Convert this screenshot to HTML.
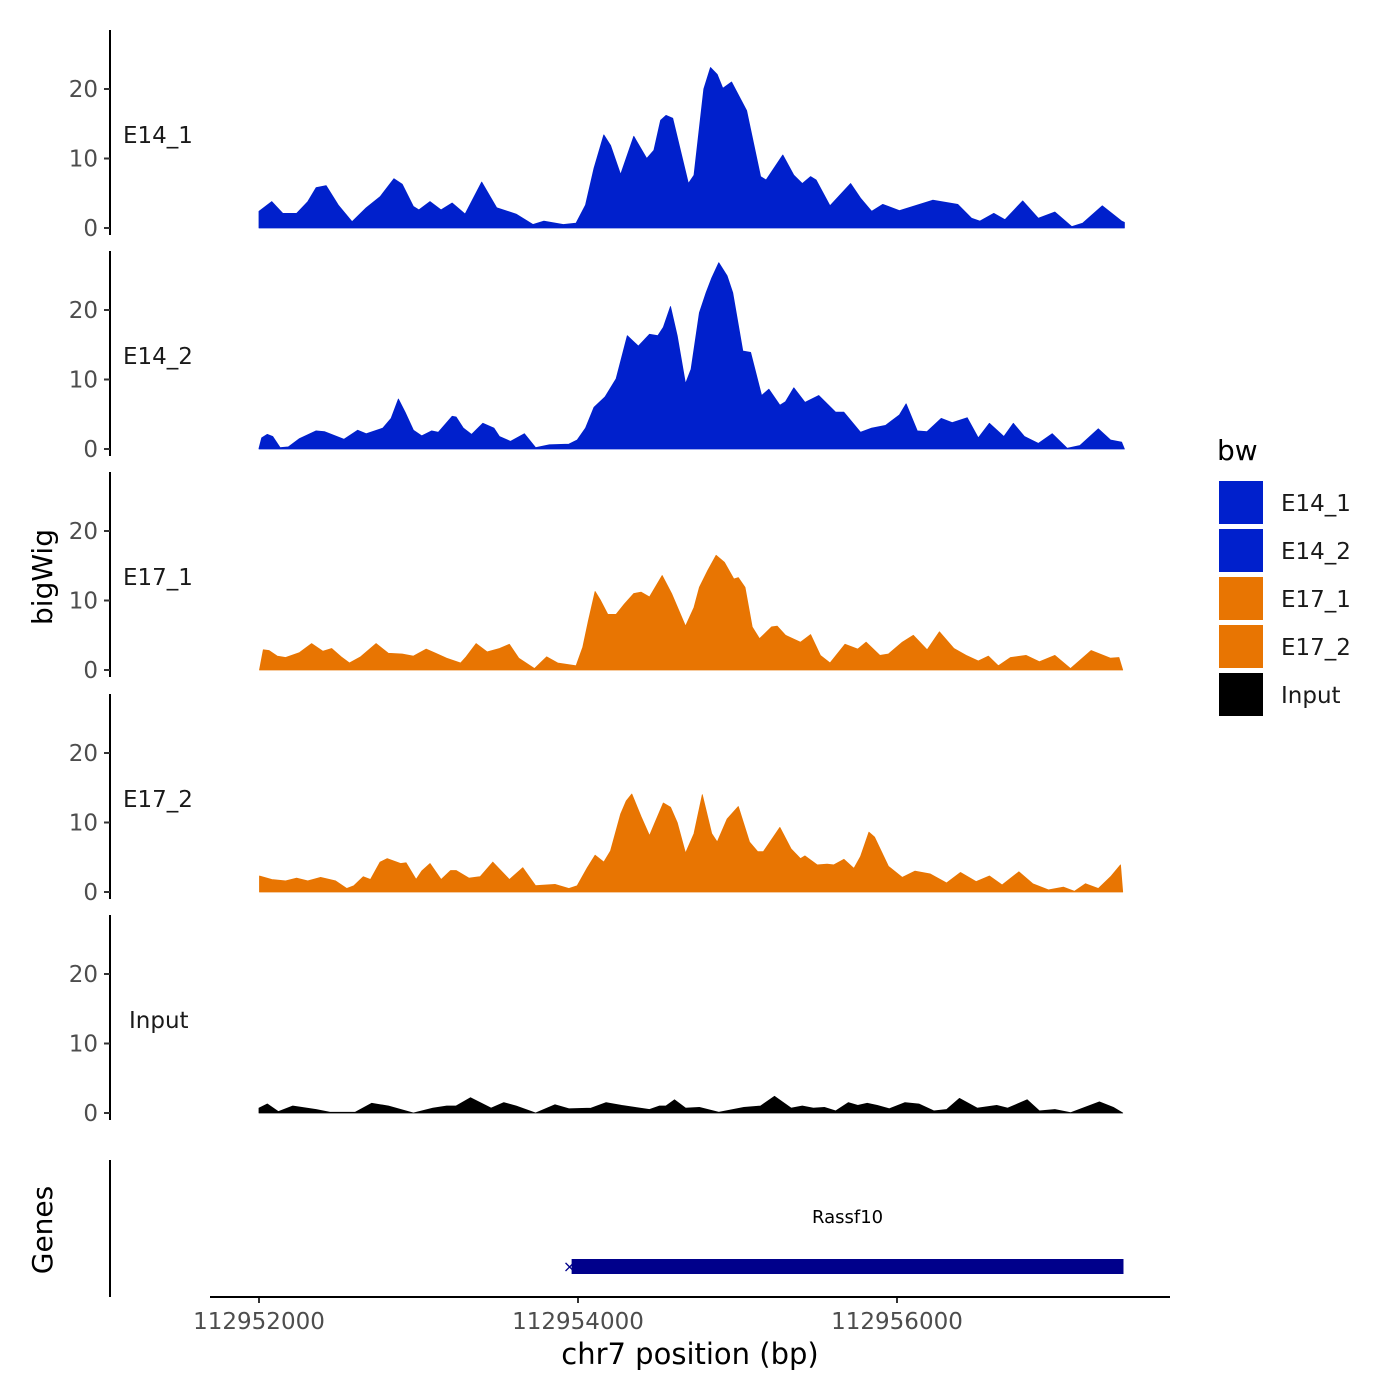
<!DOCTYPE html>
<html><head><meta charset="utf-8"><style>
html,body{margin:0;padding:0;background:#fff;}
svg{display:block;font-family:"DejaVu Sans","Liberation Sans",sans-serif;}
</style></head><body>
<svg id="chart" width="1400" height="1400" viewBox="0 0 1400 1400">
<rect width="1400" height="1400" fill="#fff"/>
<g id="tracks"></g>
<g id="axes"></g>
<text x="52" y="577" font-size="28" text-anchor="middle" transform="rotate(-90 52 577)">bigWig</text>
<text x="52" y="1230" font-size="28" text-anchor="middle" transform="rotate(-90 52 1230)">Genes</text>
<text x="690" y="1364" font-size="29" text-anchor="middle">chr7 position (bp)</text>
<line x1="110" y1="1160" x2="110" y2="1297" stroke="#000" stroke-width="2"/>
<line x1="210" y1="1297" x2="1170" y2="1297" stroke="#000" stroke-width="2"/>
<g id="genes"></g>
<g id="legend">
<text x="1217" y="460" font-size="28">bw</text>
</g>
</svg>
<script>
const ns="http://www.w3.org/2000/svg";
const START=112952000;
const xTicks=[112952000,112954000,112956000];
const yTicks=[0,10,20];
const trackNames=["E14_1","E14_2","E17_1","E17_2","Input"];
const trackColors=["#0020CC","#0020CC","#E87502","#E87502","#000000"];
const geneName="Rassf10";
const geneStart=112953960;
const geneEnd=112957420;
// positions: bp offset from 112952000; values: coverage
const e14_1_pos=[0,80,149,236,306,358,421,497,584,672,759,846,898,968,1002,1072,1142,1211,1292,1396,1490,1612,1717,1786,1908,1988,2047,2100,2162,2204,2267,2350,2431,2476,2518,2552,2594,2692,2727,2789,2831,2873,2908,2963,3057,3145,3179,3284,3353,3406,3458,3493,3580,3709,3771,3841,3911,4015,4224,4381,4468,4520,4607,4677,4788,4886,4990,5095,5165,5287,5408,5426];
const e14_1_val=[2.4,3.8,2.1,2.1,3.8,5.8,6.1,3.3,0.9,2.9,4.5,7.1,6.3,3.1,2.6,3.8,2.6,3.6,2.0,6.6,2.9,2.0,0.5,1.0,0.5,0.7,3.3,8.6,13.4,11.9,7.7,13.2,10,11.2,15.5,16.2,15.8,6.4,7.6,20,23.1,22.1,20.1,21,16.9,7.4,6.9,10.5,7.6,6.4,7.4,6.9,3.2,6.4,4.3,2.4,3.4,2.5,4.0,3.4,1.4,1.0,2.1,1.2,3.9,1.4,2.3,0.2,0.7,3.2,1.0,0.8];
const e14_2_pos=[0,17,52,86,132,184,254,358,410,532,619,672,776,828,874,916,968,1020,1083,1124,1211,1236,1281,1333,1403,1473,1507,1577,1664,1734,1821,1943,1995,2047,2100,2169,2239,2309,2378,2448,2500,2535,2580,2622,2674,2709,2761,2803,2838,2883,2935,2970,3033,3082,3151,3197,3266,3301,3353,3423,3510,3615,3667,3771,3841,3928,4015,4057,4127,4189,4277,4346,4440,4510,4579,4670,4729,4799,4886,4973,5067,5147,5262,5339,5408,5426];
const e14_2_val=[0.1,1.6,2.1,1.8,0.2,0.3,1.5,2.6,2.5,1.4,2.7,2.2,3.0,4.4,7.2,5.3,2.7,1.9,2.6,2.4,4.7,4.6,3.0,2.1,3.7,3.0,1.8,1.1,2.2,0.2,0.6,0.7,1.3,3.0,6.0,7.5,10.1,16.3,14.8,16.5,16.3,17.5,20.5,16.3,9.4,11.5,19.6,22.5,24.6,26.8,24.9,22.5,14.1,13.9,7.7,8.6,6.3,6.8,8.8,6.7,7.7,5.3,5.3,2.4,3.0,3.4,4.9,6.5,2.6,2.5,4.4,3.8,4.5,1.6,3.7,1.8,3.7,1.8,0.8,2.2,0.1,0.5,2.9,1.3,1.0,0];
const e17_1_pos=[3,27,62,114,167,254,330,400,456,515,567,637,734,811,898,968,1048,1107,1177,1264,1299,1361,1431,1508,1570,1629,1727,1804,1873,1988,2030,2065,2107,2142,2187,2239,2291,2350,2396,2448,2528,2587,2674,2727,2761,2813,2866,2918,2977,3005,3047,3092,3138,3214,3249,3301,3395,3458,3520,3580,3674,3754,3806,3893,3946,4033,4102,4189,4266,4357,4433,4510,4573,4635,4712,4809,4893,4990,5088,5217,5339,5391,5415];
const e17_1_val=[0,2.9,2.8,2.0,1.8,2.5,3.8,2.7,3.1,1.9,1.0,1.9,3.8,2.4,2.3,2.0,3.0,2.4,1.7,1.0,1.9,3.8,2.6,3.1,3.7,1.7,0.2,1.9,1.0,0.6,3.3,7.1,11.3,10.0,8.0,8.0,9.5,11.0,11.2,10.5,13.6,11.0,6.3,9.0,11.9,14.3,16.5,15.5,13.1,13.3,11.9,6.2,4.5,6.2,6.3,5.0,4.0,5.1,2.1,1.0,3.7,3.0,4.0,2.1,2.3,4.0,5.0,2.9,5.5,3.1,2.1,1.3,2.0,0.6,1.8,2.1,1.2,2.1,0.2,2.8,1.7,1.8,0];
const e17_2_pos=[3,80,167,236,306,386,480,550,595,654,699,759,804,888,922,985,1020,1072,1142,1201,1236,1316,1386,1466,1570,1654,1734,1856,1943,1995,2058,2107,2162,2204,2267,2302,2337,2396,2448,2483,2535,2580,2622,2674,2727,2779,2838,2873,2935,3005,3075,3127,3162,3266,3336,3395,3423,3500,3562,3604,3667,3730,3771,3824,3859,3946,4033,4113,4207,4311,4398,4496,4579,4659,4764,4851,4949,5043,5112,5182,5262,5339,5401,5415];
const e17_2_val=[2.3,1.8,1.6,2.0,1.6,2.1,1.6,0.5,0.9,2.2,1.8,4.3,4.8,4.1,4.2,1.8,3.0,4.1,1.8,3.1,3.1,2.0,2.2,4.3,1.8,3.5,0.9,1.1,0.5,0.9,3.5,5.3,4.3,5.9,11.2,13.1,14.1,10.8,8.1,10.0,12.8,12.2,10.0,5.6,8.4,14.0,8.4,7.2,10.5,12.3,7.2,5.8,5.8,9.3,6.2,4.8,5.2,3.9,4.0,3.9,4.7,3.4,5.1,8.6,7.9,3.7,2.1,3.0,2.6,1.3,2.8,1.5,2.3,1.0,2.9,1.2,0.3,0.7,0.1,1.2,0.5,2.2,3.9,0];
const input_pos=[0,52,121,212,358,445,602,706,811,968,1090,1177,1236,1326,1455,1535,1612,1734,1856,1943,2082,2176,2274,2448,2511,2552,2605,2674,2761,2883,3040,3145,3232,3336,3406,3475,3545,3615,3695,3754,3813,3876,3952,4050,4137,4231,4311,4391,4503,4625,4694,4816,4893,4990,5088,5269,5356,5415];
const input_val=[0.7,1.3,0.2,1.0,0.5,0.1,0.1,1.4,1.0,0,0.7,1.0,1.0,2.2,0.7,1.5,1.0,0,1.2,0.6,0.7,1.5,1.1,0.5,1.0,1.0,1.9,0.7,0.8,0.1,0.8,1.0,2.4,0.7,1.0,0.7,0.8,0.3,1.5,1.1,1.4,1.1,0.6,1.5,1.3,0.3,0.5,2.1,0.7,1.1,0.7,1.9,0.3,0.5,0.05,1.6,0.8,0];
const allPos=[e14_1_pos,e14_2_pos,e17_1_pos,e17_2_pos,input_pos];
const allVal=[e14_1_val,e14_2_val,e17_1_val,e17_2_val,input_val];

const PX_PER_BP=319/2000;
function xScale(bp){return 259+(bp-START)*PX_PER_BP;}
const panelBase=[228,449,670,892,1113];
const PX_PER_UNIT=6.95;
function yScale(i,v){return panelBase[i]-v*PX_PER_UNIT;}

const tracks=document.getElementById('tracks');
const axes=document.getElementById('axes');
function mk(tag,attrs,parent){const e=document.createElementNS(ns,tag);for(const k in attrs)e.setAttribute(k,attrs[k]);parent.appendChild(e);return e;}

for(let i=0;i<5;i++){
  const pos=allPos[i],val=allVal[i];
  let d=`M${xScale(START+pos[0]).toFixed(1)},${panelBase[i]}`;
  for(let j=0;j<pos.length;j++){d+=`L${xScale(START+pos[j]).toFixed(1)},${yScale(i,val[j]).toFixed(1)}`;}
  d+=`L${xScale(START+pos[pos.length-1]).toFixed(1)},${panelBase[i]}Z`;
  const p=mk('path',{d:d,fill:trackColors[i],stroke:trackColors[i],'stroke-width':'0.8','stroke-linejoin':'round'},tracks);
  
  
  const top=panelBase[i]-198, bot=panelBase[i]+7;
  const ax=mk('line',{x1:110,y1:top,x2:110,y2:bot,stroke:'#000','stroke-width':2},axes);
  
  
  for(const t of yTicks){
    const y=yScale(i,t);
    const tk=mk('line',{x1:104,y1:y,x2:110,y2:y,stroke:'#333','stroke-width':2},axes);
    
    
    const tl=mk('text',{x:98,y:y+8,'font-size':23,'text-anchor':'end',fill:'#4d4d4d'},axes);
    tl.textContent=t;
    
    
  }
  const lbl=mk('text',{x:trackNames[i]==='Input'?129:123,y:panelBase[i]-85,'font-size':23,fill:'#1a1a1a'},axes);
  lbl.textContent=trackNames[i];
  
  
}
for(const t of xTicks){
  const x=xScale(t);
  const tk=mk('line',{x1:x,y1:1297,x2:x,y2:1303,stroke:'#333','stroke-width':2},axes);
  
  
  const tl=mk('text',{x:x,y:1329,'font-size':23,'text-anchor':'middle',fill:'#4d4d4d'},axes);
  tl.textContent=t;
  
  
}
const genes=document.getElementById('genes');
const gx1=xScale(geneStart),gx2=xScale(geneEnd);
const gb=mk('rect',{x:gx1,y:1259,width:gx2-gx1,height:15,fill:'#00008B'},genes);


const gs=mk('text',{x:gx1-2,y:1272,'font-size':16,'text-anchor':'middle',fill:'#00008B'},genes);
gs.textContent='×';


const gl=mk('text',{x:(gx1+gx2)/2,y:1223,'font-size':18,'text-anchor':'middle',fill:'#000'},genes);
gl.textContent=geneName;



const legend=document.getElementById('legend');
for(let i=0;i<5;i++){
  const y=481+i*48;
  const r=mk('rect',{x:1219,y:y,width:44,height:43,fill:trackColors[i]},legend);
  
  
  const t=mk('text',{x:1281,y:y+30,'font-size':23,fill:'#1a1a1a'},legend);
  t.textContent=trackNames[i];
  
  
}
</script>
</body></html>
